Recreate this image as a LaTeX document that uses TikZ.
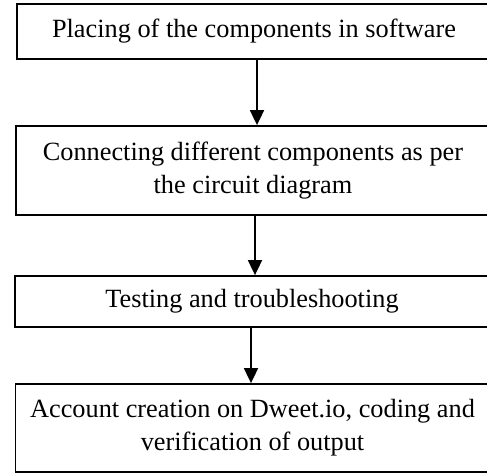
\documentclass[tikz,border=0pt]{standalone}
\usepackage{fontspec}
\setmainfont{Liberation Serif}
\usepackage{tikz}
\usetikzlibrary{arrows.meta}

\begin{document}
\begin{tikzpicture}[x=1pt,y=-1pt,
    stepbox/.style={draw, line width=1.8pt, minimum width=474pt, inner sep=0pt,
      align=center, font=\fontsize{26.3}{33}\selectfont},
    flow/.style={-{Triangle[width=14pt,length=15pt]}, line width=1.8pt}]
  % Frame
  \useasboundingbox (0,0) rectangle (487,474);
  \clip (0,0) rectangle (487,474);
  % Steps
  \node[stepbox, minimum height=55pt] (place) at (254,31.5) {Placing of the components in software};
  \node[stepbox, minimum height=89pt] (connect) at (253,170.5) {Connecting different components as per\\the circuit diagram};
  \node[stepbox, minimum height=51pt] (test) at (252,301.5) {Testing and troubleshooting};
  \node[stepbox, minimum height=88pt] (account) at (252.5,428) {Account creation on Dweet.io, coding and\\verification of output};
  % Arrows
  \draw[flow] ([xshift=3pt]place.south) -- ([xshift=3pt]place.south |- connect.north);
  \draw[flow] ([xshift=2pt]connect.south) -- ([xshift=2pt]connect.south |- test.north);
  \draw[flow] ([xshift=-1pt]test.south) -- ([xshift=-1pt]test.south |- account.north);
\end{tikzpicture}
\end{document}
